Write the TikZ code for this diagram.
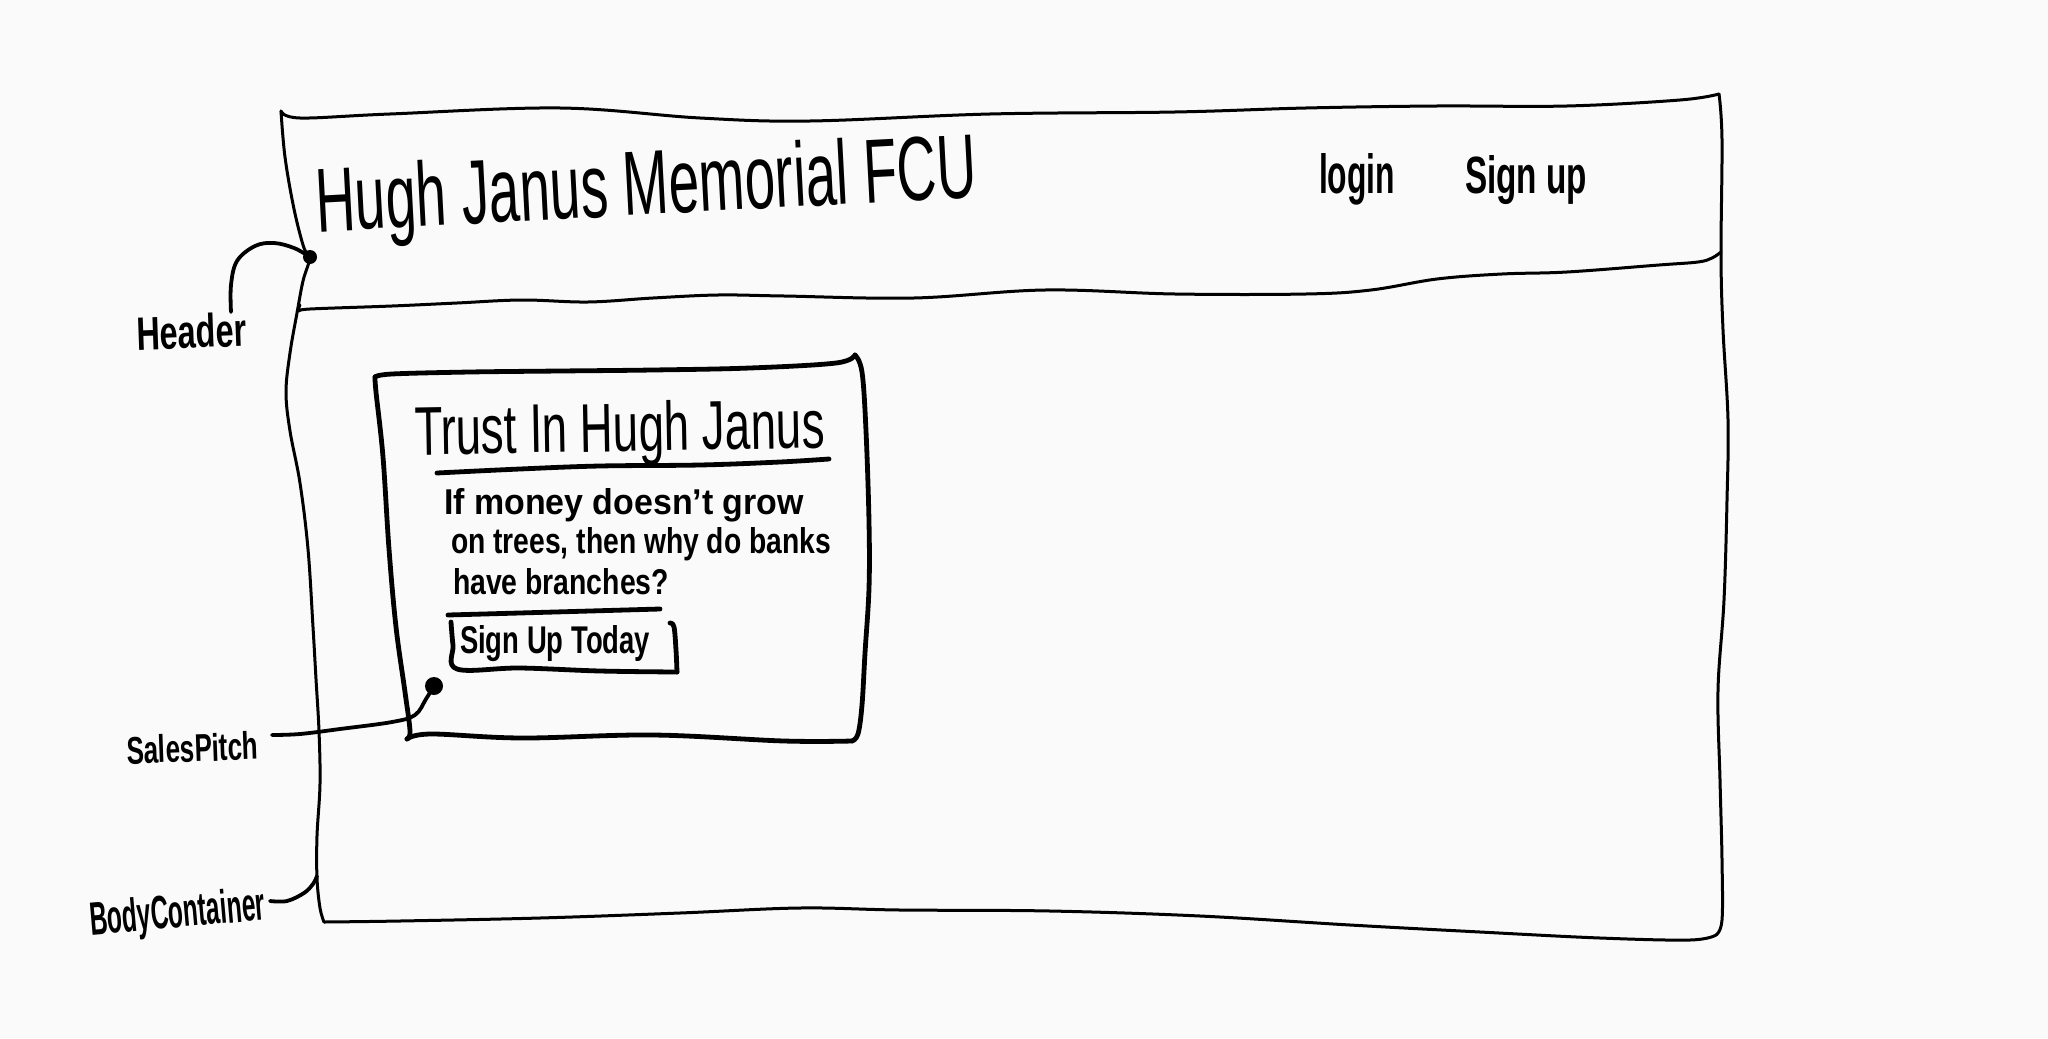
\documentclass[tikz,border=0pt]{standalone}
\usepackage{fontspec}
\setmainfont{Liberation Sans}
\definecolor{paper}{RGB}{250,250,250}
\begin{document}
\begin{tikzpicture}[x=0.5pt,y=-0.5pt,
  pen/.style={line width=1.5pt, line cap=round, line join=round},
  heavypen/.style={line width=2.4pt, line cap=round, line join=round},
  leader/.style={line width=1.9pt, line cap=round, line join=round},
  ink/.style={inner sep=0pt, outer sep=0pt, anchor=base west},
  knob/.style={circle, fill=black, inner sep=0pt, minimum size=#1},
]
% sheet
\fill[paper] (0,0) rectangle (2048,1038);
\useasboundingbox (0,0) rectangle (2048,1038);

% ---- body container (outer frame) ----
\draw[pen] plot[smooth, tension=0.6] coordinates {(281,111) (300,118) (390,114) (560,108) (700,118) (810,121) (990,114) (1175,112) (1306,108) (1437,106) (1567,106) (1680,100) (1719,94)};
\draw[pen] plot[smooth, tension=0.6] coordinates {(1719,94) (1722,140) (1721,256) (1723,330) (1728,420) (1727,500) (1724,600) (1718,690) (1720,780) (1722,860) (1722,920) (1716,935)};
\draw[pen] plot[smooth, tension=0.6] coordinates {(1716,935) (1690,940) (1600,938) (1480,932) (1350,925) (1200,916) (1050,911) (900,910) (800,908) (680,913) (540,918) (400,921) (324,922)};
\draw[pen] plot[smooth, tension=0.6] coordinates {(324,922) (320,908) (317,878) (317,836) (320,784) (319,731) (316,679) (313,627) (308,549) (300,483) (290,431) (286,392) (290,353) (297,313) (303,281) (310,257) (304,248) (294,209) (285,157) (281,111)};

% ---- header strip lower edge ----
\draw[pen] plot[smooth, tension=0.6] coordinates {(300,305) (299,311) (310,309) (392,306) (457,303) (522,300) (588,302) (653,298) (718,295) (784,296) (914,298) (1045,290) (1175,294) (1306,294) (1371,290) (1437,279) (1502,274) (1567,272) (1659,265) (1698,262) (1712,258) (1721,252)};

% ---- header texts ----
\node[ink, rotate=3] (brand) at (317,232) {\resizebox{331pt}{33pt}{Hugh Janus Memorial FCU}};
\node[ink] (login) at (1319,193) {\resizebox{38pt}{20pt}{\bfseries login}};
\node[ink] (signup) at (1465,193) {\resizebox{61pt}{19pt}{\bfseries Sign up}};

% ---- sales pitch card ----
\draw[heavypen] plot[smooth, tension=0.6] coordinates {(375,377) (392,374) (470,372) (560,371) (653,370) (750,368) (836,363) (855,355)};
\draw[heavypen] plot[smooth, tension=0.6] coordinates {(855,355) (862,372) (866,431) (869,522) (869,588) (865,653) (862,705) (858,734) (852,741)};
\draw[heavypen] plot[smooth, tension=0.6] coordinates {(852,741) (784,741) (653,735) (522,738) (431,734) (407,739)};
\draw[heavypen] plot[smooth, tension=0.6] coordinates {(407,739) (410,731) (405,692) (396,627) (389,549) (383,457) (376,392) (375,377)};

\node[ink, rotate=1] (pitchtitle) at (415,455) {\resizebox{205pt}{25pt}{Trust In Hugh Janus}};
\draw[heavypen] plot[smooth, tension=0.6] coordinates {(437,473) (520,469) (600,466) (700,465) (780,462) (829,459)};

\node[ink] (lineone) at (444,514) {\resizebox{180pt}{13pt}{\bfseries If money doesn't grow}};
\node[ink] (linetwo) at (451,553) {\resizebox{190pt}{13pt}{\bfseries on trees, then why do banks}};
\node[ink] (linethree) at (453,594) {\resizebox{108pt}{13pt}{\bfseries have branches?}};

% sign-up button
\draw[heavypen] plot[smooth, tension=0.6] coordinates {(448,615) (555,612) (660,609)};
\draw[heavypen] plot[smooth, tension=0.6] coordinates {(451,622) (453,645) (457,669) (520,668) (600,671) (677,672)};
\draw[heavypen] plot[smooth, tension=0.6] coordinates {(677,672) (676,650) (674,627) (670,623)};
\node[ink] (button) at (460,653) {\resizebox{95pt}{14pt}{\bfseries Sign Up Today}};

% ---- callouts ----
\node[knob=7pt] (hdot) at (310,257) {};
\node[ink, rotate=2] (hlabel) at (137,350) {\resizebox{55pt}{17pt}{\bfseries Header}};
\draw[leader] plot[smooth, tension=0.6] coordinates {(hdot.center) (294,248) (274,243) (255,246) (237,261) (231,285) (231,312)};

\node[knob=9pt] (sdot) at (434,686) {};
\node[ink, rotate=2] (slabel) at (127,764) {\resizebox{66pt}{14pt}{\bfseries SalesPitch}};
\draw[leader] plot[smooth, tension=0.6] coordinates {(sdot.center) (426,699) (415,715) (392,722) (340,729) (300,734) (272,735)};

\coordinate (bcedge) at (317,876);
\node[ink, rotate=5] (bclabel) at (91,935) {\resizebox{88pt}{17pt}{\bfseries BodyContainer}};
\draw[leader] plot[smooth, tension=0.6] coordinates {(270,901) (287,901) (304,893) (313,884) (bcedge)};
\end{tikzpicture}
\end{document}
